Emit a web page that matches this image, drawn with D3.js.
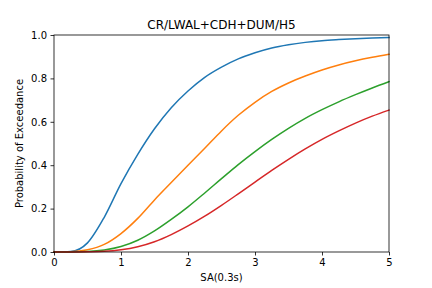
<!DOCTYPE html>
<html>
<head>
<meta charset="utf-8">
<script src="https://cdn.jsdelivr.net/npm/d3@7"></script>
<style>
  html, body { margin: 0; padding: 0; background: #fff; }
  text { font-family: "DejaVu Sans", sans-serif; fill: #000; }
</style>
</head>
<body>
<div id="chart"></div>
<script>
// Fragility curves
const title = 'CR/LWAL+CDH+DUM/H5';
const xLabel = 'SA(0.3s)';
const yLabel = 'Probability of Exceedance';

const sa = [0, 0.25, 0.5, 0.75, 1.0, 1.25, 1.5, 1.75, 2.0, 2.25, 2.5,
            2.75, 3.0, 3.25, 3.5, 3.75, 4.0, 4.25, 4.5, 4.75, 5.0];

const slight    = [0, 0.002, 0.042, 0.16, 0.315, 0.45, 0.568, 0.665, 0.742, 0.805, 0.852,
                   0.89, 0.918, 0.94, 0.955, 0.966, 0.974, 0.979, 0.983, 0.986, 0.988];
const moderate  = [0, 0.001, 0.01, 0.035, 0.085, 0.155, 0.24, 0.32, 0.4, 0.478, 0.558,
                   0.63, 0.69, 0.74, 0.779, 0.811, 0.839, 0.862, 0.881, 0.897, 0.911];
const extensive = [0, 0, 0.002, 0.009, 0.025, 0.054, 0.097, 0.15, 0.208, 0.272, 0.338,
                   0.403, 0.463, 0.519, 0.57, 0.616, 0.656, 0.692, 0.725, 0.756, 0.785];
const complete  = [0, 0, 0.001, 0.003, 0.01, 0.024, 0.047, 0.08, 0.12, 0.165, 0.215,
                   0.268, 0.322, 0.376, 0.427, 0.475, 0.519, 0.558, 0.594, 0.626, 0.654];

const xTicks = [0, 1, 2, 3, 4, 5];
const yTicks = [0, 0.2, 0.4, 0.6, 0.8, 1.0];

const series = [slight, moderate, extensive, complete];
const colors = ['#1f77b4', '#ff7f0e', '#2ca02c', '#d62728'];

const W = 432, H = 288;
const margin = { top: 35, right: 43, bottom: 36, left: 54 };
const width = W - margin.left - margin.right;
const height = H - margin.top - margin.bottom;

const svg = d3.select('#chart').append('svg')
  .attr('width', W)
  .attr('height', H);

const g = svg.append('g')
  .attr('transform', `translate(${margin.left},${margin.top})`);

const x = d3.scaleLinear().domain([0, 5]).range([0, width]);
const y = d3.scaleLinear().domain([0, 1]).range([height, 0]);

// Lines
const line = d3.line()
  .x((d, i) => x(sa[i]))
  .y(d => y(d))
  .curve(d3.curveMonotoneX);

g.append('g')
  .selectAll('path')
  .data(series)
  .enter().append('path')
  .attr('d', d => line(d))
  .style('fill', 'none')
  .style('stroke', (d, i) => colors[i])
  .style('stroke-width', 1.5)
  .style('stroke-linejoin', 'round')
  .style('stroke-linecap', 'square');

// Axes
const xAxis = g.append('g')
  .attr('transform', `translate(0,${height})`)
  .call(d3.axisBottom(x).tickValues(xTicks).tickFormat(d3.format('d'))
    .tickSizeInner(3.5).tickSizeOuter(0).tickPadding(3.5));

const yAxis = g.append('g')
  .call(d3.axisLeft(y).tickValues(yTicks).tickFormat(d3.format('.1f'))
    .tickSizeInner(3.5).tickSizeOuter(0).tickPadding(3.5));

[xAxis, yAxis].forEach(a => {
  a.select('.domain').remove();
  a.selectAll('.tick line').style('stroke', '#000').style('stroke-width', 0.8);
  a.selectAll('.tick text').style('font-size', '10px').style('font-family', '"DejaVu Sans", sans-serif');
});

// Frame
g.append('rect')
  .attr('width', width)
  .attr('height', height)
  .style('fill', 'none')
  .style('stroke', '#000')
  .style('stroke-width', 0.8);

// Labels
svg.append('text')
  .attr('text-anchor', 'middle')
  .attr('x', margin.left + width / 2)
  .attr('y', 29)
  .style('font-size', '12px')
  .text(title);

svg.append('text')
  .attr('text-anchor', 'middle')
  .attr('x', margin.left + width / 2)
  .attr('y', 281)
  .style('font-size', '10px')
  .text(xLabel);

svg.append('text')
  .attr('text-anchor', 'middle')
  .attr('transform', `translate(23,${margin.top + height / 2}) rotate(-90)`)
  .style('font-size', '10px')
  .text(yLabel);
</script>
</body>
</html>
